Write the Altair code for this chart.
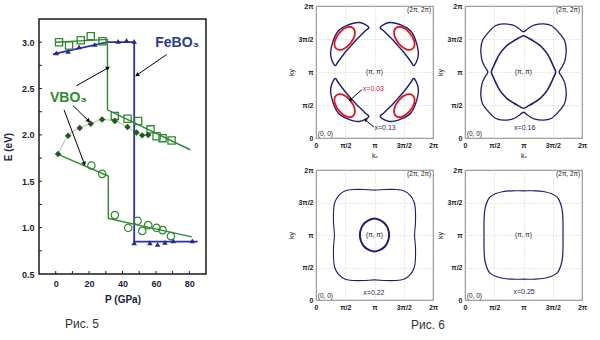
import math
import altair as alt
import pandas as pd

# ======================= Рис. 5 : E(P) =======================
fe_p = [0.4, 7.4, 14.0, 23.4, 37.4, 42.4, 47.0, 47.0, 56.4, 61.0, 65.4, 70.4, 81.8]
fe_e = [2.885, 2.90, 2.95, 2.975, 3.01, 3.02, 3.01, 0.835, 0.835, 0.82, 0.84, 0.857, 0.857]
fe_line_p = [-1.6, 31.0, 47.0, 47.0, 85.0]
fe_line_e = [2.87, 3.0, 3.0, 0.85, 0.85]

sq_p = [2, 8, 15, 21, 28, 35.4, 43, 49.4, 56.8, 60.4, 64, 69.4]
sq_e = [3.0, 2.965, 3.02, 3.065, 3.01, 2.205, 2.175, 2.15, 2.06, 1.985, 1.965, 1.94]
vu_line_p = [0, 31, 31, 80.5]
vu_line_e = [3.0, 3.03, 2.27, 1.84]

dia_p = [1.4, 7.4, 14.4, 21, 27.8, 35.4, 43, 48.4, 51.8, 55.4]
dia_e = [1.795, 1.99, 2.075, 2.12, 2.165, 2.15, 2.085, 2.025, 1.995, 2.0]

ci_p = [21.4, 27.8, 35.4, 43.4, 49, 51.8, 55.4, 60.4, 64, 69]
ci_e = [1.67, 1.58, 1.135, 0.998, 1.074, 0.965, 1.027, 0.998, 0.973, 0.908]
vl_line_p = [1.4, 31.5, 31.5, 81.5]
vl_line_e = [1.79, 1.557, 1.10, 0.90]

arr5_p0 = [66.4, 12.4, 10.4, 5.0]
arr5_e0 = [2.867, 2.53, 2.315, 2.27]
arr5_p1 = [49.0, 31.0, 19.4, 17.0]
arr5_e1 = [2.65, 2.72, 2.156, 1.695]

lab5_text = ["FeBO₃", "VBO₃"]
lab5_p = [59.6, -3.4]
lab5_e = [2.99, 2.40]

tick5_p = [0, 10, 20, 30, 40, 50, 60, 70, 80]
tick5_e = [0.75, 1.0, 1.25, 1.5, 1.75, 2.0, 2.25, 2.5, 2.75, 3.0]

captions = ["Рис. 5", "Рис. 6"]

# ======================= Рис. 6 : Fermi contours (k in units of π) =======================
pocket_kx = [0.90, 0.84, 0.70, 0.60, 0.50, 0.38, 0.32, 0.25, 0.29, 0.38, 0.54, 0.74]
pocket_ky = [0.32, 0.38, 0.50, 0.60, 0.70, 0.84, 0.90, 0.74, 0.54, 0.38, 0.29, 0.25]
red_cx, red_cy = 0.49, 0.49
red_dx = [0.15, 0.17, 0.088, -0.044, -0.15, -0.17, -0.088, 0.044]
red_dy = [-0.15, -0.044, 0.088, 0.17, 0.15, 0.044, -0.088, -0.17]

p2_out_dx = [0.61, 0.66, 0.71, 0.73, 0.70, 0.60, 0.48, 0.34, 0.18, 0.08, 0.0]
p2_out_dy = [0.0, 0.08, 0.18, 0.34, 0.48, 0.60, 0.70, 0.73, 0.71, 0.66, 0.61]
p2_in_dx = [0.55, 0.51, 0.47, 0.41, 0.345, 0.27, 0.17, 0.09, 0.0]
p2_in_dy = [0.0, 0.09, 0.17, 0.27, 0.345, 0.41, 0.47, 0.51, 0.55]
p3_out_dx = [0.685, 0.70, 0.70, 0.68, 0.61, 0.50, 0.36, 0.18, 0.0]
p3_out_dy = [0.0, 0.18, 0.36, 0.50, 0.61, 0.68, 0.70, 0.70, 0.69]
p3_in_dx = [0.25, 0.23, 0.177, 0.096, 0.0]
p3_in_dy = [0.0, 0.096, 0.177, 0.23, 0.255]
p4_dx = [0.675, 0.675, 0.665, 0.635, 0.58, 0.48, 0.36, 0.20, 0.0]
p4_dy = [0.0, 0.20, 0.36, 0.48, 0.58, 0.635, 0.665, 0.68, 0.68]

conc_labels = ["x=0.03", "x=0.13", "x=0.16", "x=0.22", "x=0.25"]
conc_kx = [0.80, 1.00, 1.02, 0.99, 1.01]
conc_ky = [0.75, 0.15, 0.15, 0.11, 0.12]
arr6_x0 = [0.78, 0.99]
arr6_y0 = [0.73, 0.165]
arr6_x1 = [0.59, 0.85]
arr6_y1 = [0.58, 0.27]

tick_vals = [0, 0.5, 1, 1.5, 2]

# ---------------- colours / sizes ----------------
GREEN = "#2f8a2f"
DGREEN = "#1d5c1d"
NAVY = "#2a2a86"
BLUE = "#2e2ea6"
DARK = "#1c1c3c"
RED = "#e3151b"
CNAVY = "#1e1e6e"

W5, H5 = 167, 255
XD5, YD5 = [-10, 90], [0.5, 3.25]
SX5 = W5 / (XD5[1] - XD5[0])
SY5 = H5 / (YD5[1] - YD5[0])
PW, PH_T, PH_B = 117, 132, 130


def arrow_df(x0, y0, x1, y1, sx, sy):
    rows = []
    for a, b, c, d in zip(x0, y0, x1, y1):
        dxp = (c - a) * sx
        dyp = -(d - b) * sy
        ang = math.degrees(math.atan2(dxp, -dyp)) % 360
        rows.append(dict(x0=a, y0=b, x1=c, y1=d, ang=ang))
    return pd.DataFrame(rows)


# ---------------- Рис. 5 chart ----------------
ax5x = alt.Axis(values=[0, 20, 40, 60, 80], grid=False, domain=False, ticks=False,
                labelFontSize=9, labelFontWeight="bold", labelColor=DARK,
                labelPadding=5, labelFlush=False, title="P  (GPa)", titleFontSize=10,
                titleFontWeight="bold", titleColor=DARK, titlePadding=6)
ax5y = alt.Axis(values=[0.5, 1.0, 1.5, 2.0, 2.5, 3.0], format=".1f", grid=False, domain=False,
                ticks=False, labelFontSize=9, labelFontWeight="bold",
                labelColor=DARK, labelPadding=5, labelFlush=False, title="E  (eV)",
                titleFontSize=10, titleFontWeight="bold", titleColor=DARK, titlePadding=8)


def X5(f):
    return alt.X(f, type="quantitative", scale=alt.Scale(domain=XD5, nice=False, zero=False), axis=ax5x)


def Y5(f):
    return alt.Y(f, type="quantitative", scale=alt.Scale(domain=YD5, nice=False, zero=False), axis=ax5y)


def line5(ps, es, color, width=1.4, interp="linear"):
    df = pd.DataFrame({"P": ps, "E": es, "i": range(len(ps))})
    return alt.Chart(df).mark_line(color=color, strokeWidth=width, interpolate=interp).encode(
        x=X5("P"), y=Y5("E"), order="i:Q")


def pts5(ps, es, **kw):
    df = pd.DataFrame({"P": ps, "E": es})
    return alt.Chart(df).mark_point(**kw).encode(x=X5("P"), y=Y5("E"))


a5 = arrow_df(arr5_p0, arr5_e0, arr5_p1, arr5_e1, SX5, SY5)
lab5 = pd.DataFrame({"P": lab5_p, "E": lab5_e, "t": lab5_text})
tx5 = pd.DataFrame({"P": tick5_p, "E0": [YD5[0]] * len(tick5_p), "E1": [YD5[0] + 3 / SY5] * len(tick5_p)})
ty5 = pd.DataFrame({"E": tick5_e, "P0": [XD5[0]] * len(tick5_e), "P1": [XD5[0] + 3 / SX5] * len(tick5_e)})

fig5 = alt.layer(
    alt.Chart(tx5).mark_rule(color="#222", strokeWidth=1).encode(x=X5("P"), y=Y5("E0"), y2="E1"),
    alt.Chart(ty5).mark_rule(color="#222", strokeWidth=1).encode(y=Y5("E"), x=X5("P0"), x2="P1"),
    line5(dia_p, dia_e, "#b0b0b0", 1.0, "monotone"),
    line5(fe_line_p, fe_line_e, BLUE, 1.8),
    line5(vu_line_p, vu_line_e, GREEN, 1.4),
    line5(vl_line_p, vl_line_e, GREEN, 1.4),
    pts5(sq_p, sq_e, shape="square", filled=False, size=52, color=GREEN, strokeWidth=1.3, opacity=1),
    pts5(ci_p, ci_e, shape="circle", filled=False, size=55, color=GREEN, strokeWidth=1.2, opacity=1),
    pts5(dia_p, dia_e, shape="diamond", filled=True, size=42, color=DGREEN, opacity=1),
    pts5(fe_p, fe_e, shape="triangle-up", filled=True, size=30, color=NAVY, opacity=1),
    alt.Chart(a5).mark_rule(color="black", strokeWidth=1).encode(
        x=X5("x0"), y=Y5("y0"), x2="x1", y2="y1"),
    alt.Chart(a5).mark_point(shape="triangle", filled=True, size=22, color="black", opacity=1).encode(
        x=X5("x1"), y=Y5("y1"), angle=alt.Angle("ang:Q", scale=None)),
    alt.Chart(lab5.iloc[[0]]).mark_text(align="left", baseline="middle", fontSize=14,
                                        fontWeight="bold", color="#2b3a8f").encode(
        x=X5("P"), y=Y5("E"), text="t:N"),
    alt.Chart(lab5.iloc[[1]]).mark_text(align="left", baseline="middle", fontSize=14,
                                        fontWeight="bold", color=GREEN).encode(
        x=X5("P"), y=Y5("E"), text="t:N"),
    alt.Chart(pd.DataFrame({"t": [captions[0]]})).mark_text(
        fontSize=12, color="#333", font="Liberation Sans").encode(
        text="t:N", x=alt.value(43), y=alt.value(305)),
).properties(width=W5, height=H5, view=alt.ViewBackground(stroke="#1a1a1a", strokeWidth=1.5))

spacer = alt.Chart(pd.DataFrame({"a": [0]})).mark_text(text="", fontSize=1).encode(
    x=alt.value(1), y=alt.value(4)).properties(width=W5, height=8, view=alt.ViewBackground(stroke=None))

# ---------------- Рис. 6 panels ----------------
LBL = ("datum.value == 0 ? '0' : datum.value == 0.5 ? 'π/2' : datum.value == 1 ? 'π' : "
       "datum.value == 1.5 ? '3π/2' : '2π'")


def kaxis(title):
    kw = dict(values=tick_vals, labelExpr=LBL, grid=True, gridColor="#c4c4c4", gridDash=[1, 2],
              gridWidth=0.8, domain=False, ticks=False, labelFontSize=7, labelFontWeight="bold",
              labelColor="#222", labelPadding=3, labelFlush=False, titleFontSize=7,
              titleFontWeight="normal", titleColor="#222", titlePadding=3)
    if title:
        return alt.Axis(title=title, **kw)
    return alt.Axis(title=None, **kw)


def KX(f, title):
    return alt.X(f, type="quantitative", scale=alt.Scale(domain=[0, 2], nice=False, zero=False),
                 axis=kaxis(title))


def KY(f):
    return alt.Y(f, type="quantitative", scale=alt.Scale(domain=[0, 2], nice=False, zero=False),
                 axis=kaxis("ky"))


def full_curve(qx, qy):
    xs, ys = list(qx), list(qy)
    xs += [-v for v in qx[::-1]][1:]
    ys += list(qy[::-1])[1:]
    xs += [-v for v in qx][1:]
    ys += [-v for v in qy][1:]
    xs += list(qx[::-1])[1:-1]
    ys += [-v for v in qy[::-1]][1:-1]
    return [1 + v for v in xs], [1 + v for v in ys]


def curves_df(curves):
    rows = []
    for cid, (xs, ys) in enumerate(curves):
        for i, (a, b) in enumerate(zip(xs, ys)):
            rows.append(dict(kx=a, ky=b, c=cid, i=i))
    return pd.DataFrame(rows)


def reflect4(xs, ys):
    return [(xs, ys), ([2 - v for v in xs], ys), (xs, [2 - v for v in ys]),
            ([2 - v for v in xs], [2 - v for v in ys])]


def contour_layer(curves, color, width, xt):
    return alt.Chart(curves_df(curves)).mark_line(
        color=color, strokeWidth=width, interpolate="cardinal-closed").encode(
        x=KX("kx", xt), y=KY("ky"), detail="c:N", order="i:Q")


def text_layer(xs, ys, ts, xt, color="#222", size=6.5, align="center"):
    df = pd.DataFrame({"kx": xs, "ky": ys, "t": ts})
    return alt.Chart(df).mark_text(fontSize=size, color=color, align=align, baseline="middle").encode(
        x=KX("kx", xt), y=KY("ky"), text="t:N")


def corner_labels(xt):
    return [
        text_layer([0.03], [0.06], ["(0, 0)"], xt, align="left"),
        text_layer([1.97], [1.94], ["(2π, 2π)"], xt, align="right"),
        text_layer([1.0], [1.0], ["(π, π)"], xt),
    ]


def arrows6(idx, xt, h):
    df = arrow_df([arr6_x0[i] for i in idx], [arr6_y0[i] for i in idx],
                  [arr6_x1[i] for i in idx], [arr6_y1[i] for i in idx], PW / 2, h / 2)
    return [
        alt.Chart(df).mark_rule(color="black", strokeWidth=1).encode(
            x=KX("x0", xt), y=KY("y0"), x2="x1", y2="y1"),
        alt.Chart(df).mark_point(shape="triangle", filled=True, size=14, color="black", opacity=1).encode(
            x=KX("x1", xt), y=KY("y1"), angle=alt.Angle("ang:Q", scale=None)),
    ]


view6 = alt.ViewBackground(stroke="#555", strokeWidth=0.8)
XT = "kₓ"

blue_pockets = reflect4(pocket_kx, pocket_ky)
red_pockets = reflect4([red_cx + v for v in red_dx], [red_cy + v for v in red_dy])

p1 = alt.layer(
    contour_layer(blue_pockets, CNAVY, 1.4, XT),
    contour_layer(red_pockets, RED, 1.8, XT),
    *corner_labels(XT),
    text_layer([conc_kx[0]], [conc_ky[0]], [conc_labels[0]], XT, color=RED, size=7, align="left"),
    text_layer([conc_kx[1]], [conc_ky[1]], [conc_labels[1]], XT, color=CNAVY, size=7, align="left"),
    *arrows6([0, 1], XT, PH_T),
).properties(width=PW, height=PH_T, view=view6)

p2 = alt.layer(
    contour_layer([full_curve(p2_out_dx, p2_out_dy)], CNAVY, 1.3, XT),
    contour_layer([full_curve(p2_in_dx, p2_in_dy)], CNAVY, 1.6, XT),
    *corner_labels(XT),
    text_layer([conc_kx[2]], [conc_ky[2]], [conc_labels[2]], XT, color=CNAVY, size=7),
).properties(width=PW, height=PH_T, view=view6)

p3 = alt.layer(
    contour_layer([full_curve(p3_out_dx, p3_out_dy)], CNAVY, 1.1, None),
    contour_layer([full_curve(p3_in_dx, p3_in_dy)], CNAVY, 2.0, None),
    *corner_labels(None),
    text_layer([conc_kx[3]], [conc_ky[3]], [conc_labels[3]], None, color=CNAVY, size=7),
    alt.Chart(pd.DataFrame({"t": [captions[1]]})).mark_text(
        fontSize=12, color="#333", font="Liberation Sans").encode(
        text="t:N", x=alt.value(112), y=alt.value(155)),
).properties(width=PW, height=PH_B, view=view6)

p4 = alt.layer(
    contour_layer([full_curve(p4_dx, p4_dy)], CNAVY, 1.2, None),
    *corner_labels(None),
    text_layer([conc_kx[4]], [conc_ky[4]], [conc_labels[4]], None, color=CNAVY, size=7),
).properties(width=PW, height=PH_B, view=view6)

right = alt.vconcat(
    alt.hconcat(p1, p2, spacing=32, bounds="flush"),
    alt.hconcat(p3, p4, spacing=32, bounds="flush"),
    spacing=6,
)
leftcol = alt.vconcat(spacer, fig5, spacing=4)

chart = alt.hconcat(leftcol, right, spacing=80).properties(
    padding={"left": 2, "top": 1, "right": 0, "bottom": 0}
).configure(font="Liberation Sans", background="white")

chart.save("out.html", embed_options={"renderer": "svg", "actions": False})
